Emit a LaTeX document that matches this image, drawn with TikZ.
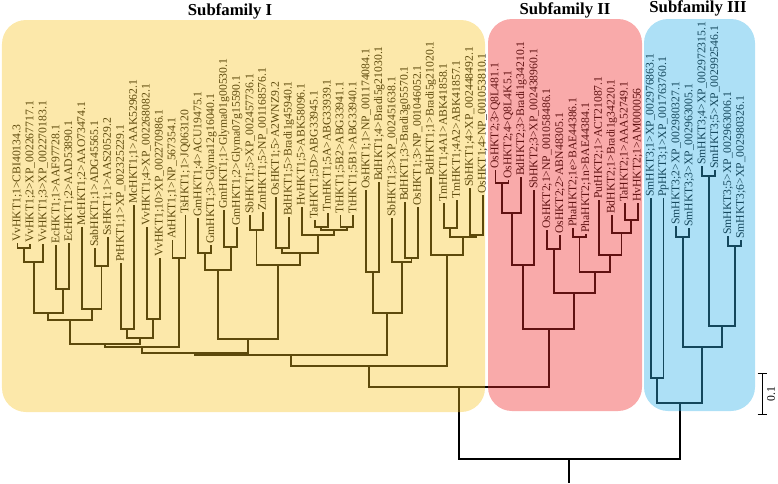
\documentclass[tikz,border=0pt]{standalone}
\usepackage{fontspec}
\setmainfont{Liberation Serif}
\usepackage{tikz}
\usetikzlibrary{arrows}

\definecolor{famI}{rgb}{0.97,0.76,0.12}
\definecolor{famII}{rgb}{0.94,0.17,0.17}
\definecolor{famIII}{rgb}{0.2,0.7,0.91}

\begin{document}
\begin{tikzpicture}[x=0.025cm, y=-0.025cm]
    \tikzset{leaf/.style = {rotate=90, anchor=west, inner sep=0.6pt, font=\fontsize{8.3}{9}\selectfont}}
    \tikzset{branch/.style = {draw=black, line width=1.3pt}}
    \tikzset{title/.style = {anchor=base, font=\fontsize{11.9}{14}\selectfont\bfseries}}
    \tikzset{group/.style = {rounded corners=0.6cm, draw=none}}
    \useasboundingbox (0,0) rectangle (778,483);

    % tips, subfamily I
    \node[leaf] (t1) at (17.5,243) {VvHKT1;1>CBI40134.3};
    \node[leaf] (t2) at (30.4,244) {VvHKT1;2>XP\_002267717.1};
    \node[leaf] (t3) at (43.3,244) {VvHKT1;3>XP\_002270183.1};
    \node[leaf] (t4) at (56.3,245) {EcHKT1;1>AAF97728.1};
    \node[leaf] (t5) at (69.2,243) {EcHKT1;2>AAD53890.1};
    \node[leaf] (t6) at (82.1,227) {McHKT1;2>AAO73474.1};
    \node[leaf] (t7) at (95.0,248) {SabHKT1;1>ADG45565.1};
    \node[leaf] (t8) at (107.9,237) {SsHKT1;1>AAS20529.2};
    \node[leaf] (t9) at (120.9,263) {PtHKT1;1>XP\_002325229.1};
    \node[leaf] (t10) at (133.8,205) {McHKT1;1>AAK52962.1};
    \node[leaf] (t11) at (146.7,227) {VvHKT1;4>XP\_002268082.1};
    \node[leaf] (t12) at (159.6,258) {VvHKT1;10>XP\_002270986.1};
    \node[leaf] (t13) at (172.5,240) {AtHKT1;1>NP\_567354.1};
    \node[leaf] (t14) at (185.5,215) {TsHKT1;1>JQ063120};
    \node[leaf] (t15) at (198.4,218) {GmHKT1;4>ACU19475.1};
    \node[leaf] (t16) at (211.3,245) {GmHKT1;3>Glyma12g16040.1};
    \node[leaf] (t17) at (224.2,210) {GmHKT1;1>Glyma01g00530.1};
    \node[leaf] (t18) at (237.1,227) {GmHKT1;2>Glyma07g15590.1};
    \node[leaf] (t19) at (250.1,215) {SbHKT1;5>XP\_002457736.1};
    \node[leaf] (t20) at (263.0,212) {ZmHKT1;5>NP\_001168576.1};
    \node[leaf] (t21) at (275.9,197) {OsHKT1;5>A2WNZ9.2};
    \node[leaf] (t22) at (288.8,217) {BdHKT1;5>Bradi1g45940.1};
    \node[leaf] (t23) at (301.7,207) {HvHKT1;5>ABK58096.1};
    \node[leaf] (t24) at (314.7,220) {TaHKT1;5D>ABG33945.1};
    \node[leaf] (t25) at (327.6,213) {TmHKT1;5A>ABG33939.1};
    \node[leaf] (t26) at (340.5,215) {TtHKT1;5B2>ABG33941.1};
    \node[leaf] (t27) at (353.4,215) {TtHKT1;5B1>ABG33940.1};
    \node[leaf] (t28) at (366.3,190) {OsHKT1;1>NP\_001174084.1};
    \node[leaf] (t29) at (379.3,182) {BdHKT1;4>Bradi5g21030.1};
    \node[leaf] (t30) at (392.2,218) {SbHKT1;3>XP\_002451638.1};
    \node[leaf] (t31) at (405.1,202) {BdHKT1;3>Bradi3g05570.1};
    \node[leaf] (t32) at (418.0,207) {OsHKT1;3>NP\_001046052.1};
    \node[leaf] (t33) at (430.9,177) {BdHKT1;1>Bradi5g21020.1};
    \node[leaf] (t34) at (443.9,203) {TmHKT1;4A1>ABK41858.1};
    \node[leaf] (t35) at (456.8,200) {TmHKT1;4A2>ABK41857.1};
    \node[leaf] (t36) at (469.7,188) {SbHKT1;4>XP\_002448492.1};
    \node[leaf] (t37) at (482.6,195) {OsHKT1;4>NP\_001053810.1};

    % tips, subfamily II
    \node[leaf] (t38) at (495.5,170) {OsHKT2;3>Q8L481.1};
    \node[leaf] (t39) at (508.5,180) {OsHKT2;4>Q8L4K5.1};
    \node[leaf] (t40) at (521.4,177) {BdHKT2;3>Bradi1g34210.1};
    \node[leaf] (t41) at (534.3,190) {SbHKT2;3>XP\_002438960.1};
    \node[leaf] (t42) at (547.2,230) {OsHKT2;1>NP\_001058486.1};
    \node[leaf] (t43) at (560.1,235) {OsHKT2;2>ABN48305.1};
    \node[leaf] (t44) at (573.1,228) {PhaHKT2;1e>BAE44386.1};
    \node[leaf] (t45) at (586.0,234) {PhaHKT2;1n>BAE44384.1};
    \node[leaf] (t46) at (598.9,200) {PutHKT2;1>ACT21087.1};
    \node[leaf] (t47) at (611.8,215) {BdHKT2;1>Bradi1g34220.1};
    \node[leaf] (t48) at (624.7,203) {TaHKT2;1>AAA52749.1};
    \node[leaf] (t49) at (637.7,203) {HvHKT2;1>AM000056};

    % tips, subfamily III
    \node[leaf] (t50) at (650.6,198) {SmHKT3;1>XP\_002976863.1};
    \node[leaf] (t51) at (663.5,198) {PpHKT3;1>XP\_001763760.1};
    \node[leaf] (t52) at (676.4,226) {SmHKT3;2>XP\_002980327.1};
    \node[leaf] (t53) at (689.3,228) {SmHKT3;3>XP\_002963005.1};
    \node[leaf] (t54) at (702.3,166) {SmHKT3;4>XP\_002972315.1};
    \node[leaf] (t55) at (715.2,170) {SmHKT3;5>XP\_002992546.1};
    \node[leaf] (t56) at (728.1,236) {SmHKT3;5>XP\_002963006.1};
    \node[leaf] (t57) at (741.0,240) {SmHKT3;6>XP\_002980326.1};

    % inner nodes
    \coordinate (A) at (24.0,248);
    \coordinate (B) at (33.6,262);
    \coordinate (C) at (62.7,289);
    \coordinate (D) at (48.2,313);
    \coordinate (E) at (101.5,266);
    \coordinate (F) at (91.8,309);
    \coordinate (G) at (70.0,320);
    \coordinate (H) at (127.3,329);
    \coordinate (J) at (153.2,319);
    \coordinate (K) at (140.2,338);
    \coordinate (L) at (105.1,344);
    \coordinate (M) at (179.0,258);
    \coordinate (N) at (142.0,347);
    \coordinate (P) at (204.9,253);
    \coordinate (Q) at (230.7,247);
    \coordinate (R) at (217.8,270);
    \coordinate (S) at (256.5,230);
    \coordinate (T) at (282.3,248);
    \coordinate (U) at (321.1,227);
    \coordinate (V) at (347.0,227);
    \coordinate (W) at (334.0,230);
    \coordinate (X) at (317.9,235);
    \coordinate (Y) at (300.1,253);
    \coordinate (Z) at (278.3,265);
    \coordinate (AA) at (248.0,339);
    \coordinate (AB) at (195.0,353);
    \coordinate (AC) at (372.8,272);
    \coordinate (AD) at (411.5,258);
    \coordinate (AE) at (401.9,262);
    \coordinate (AF) at (387.3,313);
    \coordinate (AG) at (450.3,228);
    \coordinate (AH) at (476.2,235);
    \coordinate (AI) at (463.2,237);
    \coordinate (AJ) at (447.0,255);
    \coordinate (AK) at (291.2,355);
    \coordinate (AL) at (369.1,366);
    \coordinate (BA) at (502.0,183);
    \coordinate (BB) at (511.7,213);
    \coordinate (BC) at (523.0,265);
    \coordinate (BD) at (553.7,249);
    \coordinate (BE) at (579.5,237);
    \coordinate (BF) at (631.2,220);
    \coordinate (BG) at (621.5,233);
    \coordinate (BH) at (610.2,255);
    \coordinate (BI) at (594.9,272);
    \coordinate (BJ) at (574.3,293);
    \coordinate (BK) at (548.6,329);
    \coordinate (CA) at (657.1,378);
    \coordinate (CB) at (682.9,237);
    \coordinate (CC) at (708.7,176);
    \coordinate (CD) at (734.6,246);
    \coordinate (CE) at (721.7,326);
    \coordinate (CF) at (702.3,347);
    \coordinate (CG) at (679.7,403);
    \coordinate (DA) at (458.9,387);
    \coordinate (root) at (569.3,459);
    \coordinate (base) at (569.3,483);

    % branches
    \draw[branch] (A) -| (t1) (A) -| (t2);
    \draw[branch] (B) -| (A) (B) -| (t3);
    \draw[branch] (C) -| (t4) (C) -| (t5);
    \draw[branch] (D) -| (B) (D) -| (C);
    \draw[branch] (E) -| (t7) (E) -| (t8);
    \draw[branch] (F) -| (t6) (F) -| (E);
    \draw[branch] (G) -| (D) (G) -| (F);
    \draw[branch] (H) -| (t9) (H) -| (t10);
    \draw[branch] (J) -| (t11) (J) -| (t12);
    \draw[branch] (K) -| (H) (K) -| (J);
    \draw[branch] (L) -| (G) (L) -| (K);
    \draw[branch] (M) -| (t13) (M) -| (t14);
    \draw[branch] (N) -| (L) (N) -| (M);
    \draw[branch] (P) -| (t15) (P) -| (t16);
    \draw[branch] (Q) -| (t17) (Q) -| (t18);
    \draw[branch] (R) -| (P) (R) -| (Q);
    \draw[branch] (S) -| (t19) (S) -| (t20);
    \draw[branch] (T) -| (t21) (T) -| (t22);
    \draw[branch] (U) -| (t24) (U) -| (t25);
    \draw[branch] (V) -| (t26) (V) -| (t27);
    \draw[branch] (W) -| (U) (W) -| (V);
    \draw[branch] (X) -| (t23) (X) -| (W);
    \draw[branch] (Y) -| (T) (Y) -| (X);
    \draw[branch] (Z) -| (S) (Z) -| (Y);
    \draw[branch] (AA) -| (R) (AA) -| (Z);
    \draw[branch] (AB) -| (N) (AB) -| (AA);
    \draw[branch] (AC) -| (t28) (AC) -| (t29);
    \draw[branch] (AD) -| (t31) (AD) -| (t32);
    \draw[branch] (AE) -| (t30) (AE) -| (AD);
    \draw[branch] (AF) -| (AC) (AF) -| (AE);
    \draw[branch] (AG) -| (t34) (AG) -| (t35);
    \draw[branch] (AH) -| (t36) (AH) -| (t37);
    \draw[branch] (AI) -| (AG) (AI) -| (AH);
    \draw[branch] (AJ) -| (t33) (AJ) -| (AI);
    \draw[branch] (AK) -| (AB) (AK) -| (AF);
    \draw[branch] (AL) -| (AK) (AL) -| (AJ);
    \draw[branch] (BA) -| (t38) (BA) -| (t39);
    \draw[branch] (BB) -| (BA) (BB) -| (t40);
    \draw[branch] (BC) -| (BB) (BC) -| (t41);
    \draw[branch] (BD) -| (t42) (BD) -| (t43);
    \draw[branch] (BE) -| (t44) (BE) -| (t45);
    \draw[branch] (BF) -| (t48) (BF) -| (t49);
    \draw[branch] (BG) -| (t47) (BG) -| (BF);
    \draw[branch] (BH) -| (t46) (BH) -| (BG);
    \draw[branch] (BI) -| (BE) (BI) -| (BH);
    \draw[branch] (BJ) -| (BD) (BJ) -| (BI);
    \draw[branch] (BK) -| (BC) (BK) -| (BJ);
    \draw[branch] (CA) -| (t50) (CA) -| (t51);
    \draw[branch] (CB) -| (t52) (CB) -| (t53);
    \draw[branch] (CC) -| (t54) (CC) -| (t55);
    \draw[branch] (CD) -| (t56) (CD) -| (t57);
    \draw[branch] (CE) -| (CC) (CE) -| (CD);
    \draw[branch] (CF) -| (CB) (CF) -| (CE);
    \draw[branch] (CG) -| (CA) (CG) -| (CF);
    \draw[branch] (DA) -| (AL) (DA) -| (BK);
    \draw[branch] (root) -| (DA) (root) -| (CG);
    \draw[branch] (root) -- (base);

    % subfamily boxes laid over the tree
    \fill[group, famI, fill opacity=0.38] (2,20) rectangle (485,412);
    \fill[group, famII, fill opacity=0.4] (488,19) rectangle (642,411);
    \fill[group, famIII, fill opacity=0.4] (644,19) rectangle (755,411);

    % titles
    \node[title] (subI) at (230,15) {Subfamily I};
    \node[title] (subII) at (565,14) {Subfamily II};
    \node[title] (subIII) at (698,12) {Subfamily III};

    % scale bar
    \coordinate (sb1) at (762,373);
    \coordinate (sb2) at (762,415);
    \draw[|-|, line width=0.6pt] (sb1) -- node[midway, below, rotate=90, font=\fontsize{8.3}{9}\selectfont] {0.1} (sb2);
\end{tikzpicture}
\end{document}
